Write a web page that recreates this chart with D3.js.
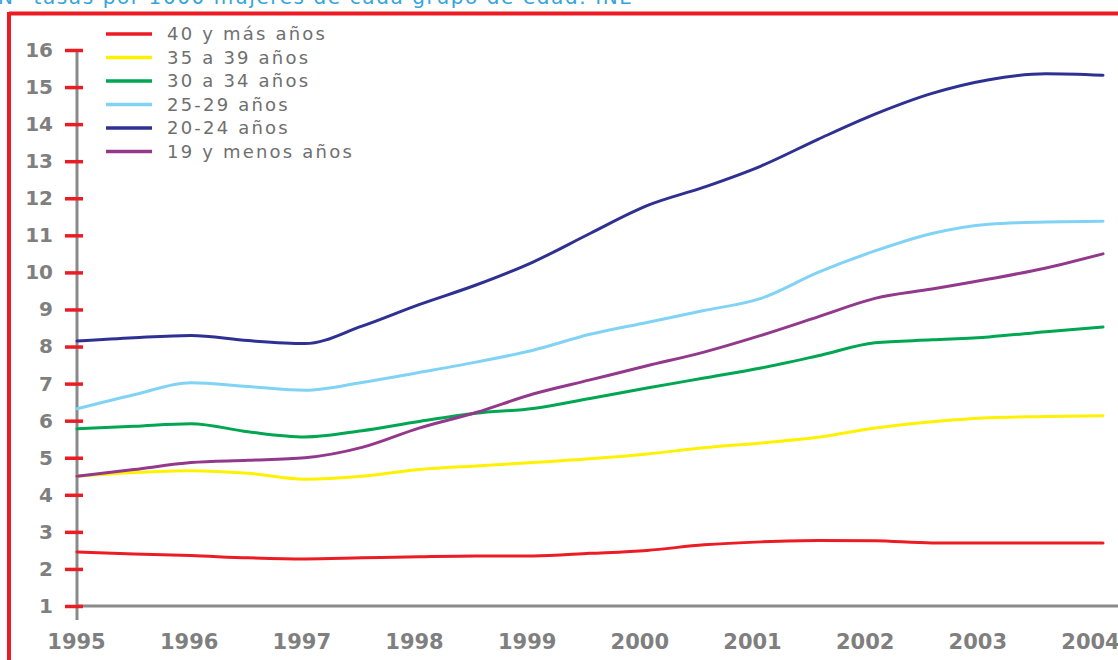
<!DOCTYPE html>
<html>
<head>
<meta charset="utf-8">
<script src="https://cdn.jsdelivr.net/npm/d3@7/dist/d3.min.js"></script>
<style>
  html, body { margin: 0; padding: 0; background: #ffffff; }
  svg { display: block; }
</style>
</head>
<body>
<svg id="chart" width="1118" height="660"></svg>
<script>
// Sample positions along the time axis (half-year steps)
const years = [1995, 1995.5, 1996, 1996.5, 1997, 1997.5, 1998, 1998.5, 1999, 1999.5,
               2000, 2000.5, 2001, 2001.5, 2002, 2002.5, 2003, 2003.5, 2004];

// Births per 1000 women of each age group
const s40 = [2.46, 2.40, 2.36, 2.30, 2.27, 2.30, 2.33, 2.35, 2.35, 2.42,
             2.50, 2.65, 2.73, 2.77, 2.76, 2.70, 2.70, 2.70, 2.70];
const s35 = [4.50, 4.60, 4.65, 4.58, 4.42, 4.50, 4.68, 4.78, 4.87, 4.97,
             5.10, 5.27, 5.40, 5.55, 5.80, 5.97, 6.08, 6.11, 6.13];
const s30 = [5.78, 5.85, 5.92, 5.70, 5.56, 5.73, 5.98, 6.20, 6.33, 6.60,
             6.88, 7.15, 7.42, 7.75, 8.10, 8.18, 8.26, 8.40, 8.53];
const s25 = [6.32, 6.70, 7.02, 6.92, 6.82, 7.03, 7.30, 7.58, 7.90, 8.33,
             8.65, 8.97, 9.30, 10.00, 10.58, 11.05, 11.30, 11.36, 11.38];
const s20 = [8.15, 8.24, 8.30, 8.16, 8.08, 8.55, 9.13, 9.66, 10.28, 11.05,
             11.80, 12.30, 12.87, 13.59, 14.27, 14.83, 15.20, 15.36, 15.32];
const s19 = [4.50, 4.68, 4.87, 4.93, 5.00, 5.28, 5.80, 6.22, 6.72, 7.10,
             7.48, 7.85, 8.30, 8.80, 9.30, 9.55, 9.82, 10.12, 10.50];

const seriesNames = ["40 y más años", "35 a 39 años", "30 a 34 años", "25-29 años", "20-24 años", "19 y menos años"];
const seriesValues = [s40, s35, s30, s25, s20, s19];
const seriesColors = ["#ec1c24", "#fff200", "#00a651", "#80d3f5", "#2e3192", "#93398c"];

const yTicks = [1, 2, 3, 4, 5, 6, 7, 8, 9, 10, 11, 12, 13, 14, 15, 16];
const xTickYears = [1995, 1996, 1997, 1998, 1999, 2000, 2001, 2002, 2003, 2004];

const titleText = "Nº tasas por 1000 mujeres de cada grupo de edad. INE";

const svg = d3.select("#chart");
const W = 1118, H = 660;

svg.append("rect").attr("width", W).attr("height", H).attr("fill", "#ffffff");

const x = d3.scaleLinear().domain([1995, 2004]).range([77, 1103]);
const xLab = d3.scaleLinear().domain([1995, 2004]).range([76, 1090]);
const y = d3.scaleLinear().domain([1, 16]).range([606, 50]);

// Caption above the frame
svg.append("text")
  .attr("x", -2).attr("y", 4)
  .attr("font-family", "DejaVu Sans, sans-serif")
  .attr("font-size", 20)
  .attr("letter-spacing", 1.6)
  .attr("fill", "#35a4dd")
  .text(titleText);

// Red frame (top and left edges)
svg.append("line").attr("x1", 9).attr("x2", W).attr("y1", 13.5).attr("y2", 13.5)
  .attr("stroke", "#ec1c24").attr("stroke-width", 4);
svg.append("line").attr("x1", 9).attr("x2", 9).attr("y1", 12).attr("y2", H)
  .attr("stroke", "#ec1c24").attr("stroke-width", 4);

// Axis lines
svg.append("line").attr("x1", x(1995)).attr("x2", W).attr("y1", y(1)).attr("y2", y(1))
  .attr("stroke", "#8a8a8a").attr("stroke-width", 3);
svg.append("line").attr("x1", x(1995)).attr("x2", x(1995)).attr("y1", y(16)).attr("y2", 620)
  .attr("stroke", "#8a8a8a").attr("stroke-width", 3);

// Y axis: red ticks crossing the axis line
const yAxis = d3.axisLeft(y).tickValues(yTicks).tickSizeInner(12).tickSizeOuter(0).tickPadding(12).tickFormat(d3.format("d"));
const gy = svg.append("g").attr("transform", `translate(${x(1995)},0)`).call(yAxis);
gy.select(".domain").remove();
gy.selectAll(".tick line").attr("x1", 6).attr("x2", -12).attr("stroke", "#ec1c24").attr("stroke-width", 3.5);
gy.selectAll(".tick text")
  .attr("font-family", "DejaVu Sans, sans-serif").attr("font-weight", "bold")
  .attr("font-size", 20).attr("fill", "#7f7f7f");

// X axis labels
const xAxis = d3.axisBottom(xLab).tickValues(xTickYears).tickSize(0).tickPadding(28).tickFormat(d3.format("d"));
const gx = svg.append("g").attr("transform", `translate(0,${y(1)})`).call(xAxis);
gx.select(".domain").remove();
gx.selectAll(".tick text")
  .attr("font-family", "DejaVu Sans, sans-serif").attr("font-weight", "bold")
  .attr("font-size", 21).attr("fill", "#7f7f7f");

// Series lines
const line = d3.line()
  .x((d, i) => x(years[i]))
  .y(d => y(d))
  .curve(d3.curveMonotoneX);

seriesValues.forEach((vals, k) => {
  svg.append("path")
    .datum(vals)
    .attr("d", line)
    .attr("fill", "none")
    .attr("stroke", seriesColors[k])
    .attr("stroke-width", 3)
    .attr("stroke-linejoin", "round")
    .attr("stroke-linecap", "round");
});

// Legend
const legend = svg.append("g");
seriesNames.forEach((name, k) => {
  const ly = 34 + k * 23.5;
  legend.append("line").attr("x1", 106).attr("x2", 152).attr("y1", ly).attr("y2", ly)
    .attr("stroke", seriesColors[k]).attr("stroke-width", 3.5);
  legend.append("text").attr("x", 167).attr("y", ly).attr("dy", "0.36em")
    .attr("font-family", "DejaVu Sans, sans-serif")
    .attr("font-size", 18).attr("letter-spacing", 2.2)
    .attr("fill", "#6f6f6f")
    .text(name);
});
</script>
</body>
</html>
